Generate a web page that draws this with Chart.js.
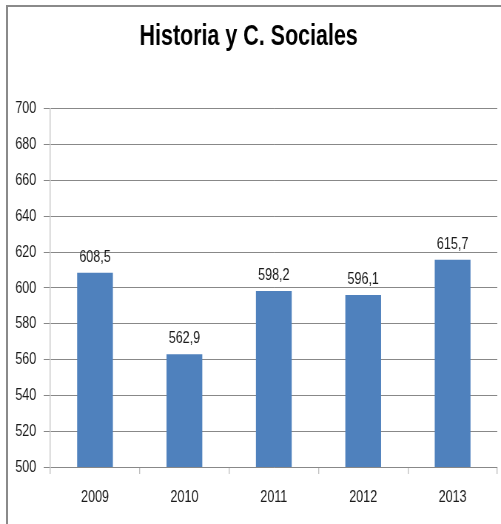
<!DOCTYPE html>
<html>
<head>
<meta charset="utf-8">
<script src="https://cdn.jsdelivr.net/npm/chart.js@4/dist/chart.umd.min.js"></script>
<style>
    html, body { margin: 0; padding: 0; background: #fff; }
    #wrap { position: relative; width: 501px; height: 524px; overflow: hidden; }
    #frame { position: absolute; left: 6px; top: 5px; width: 600px; height: 600px;
             border-top: 2px solid #8a8a8a; border-left: 2px solid #8a8a8a; }
    /* el original usa una fuente estrecha: se dibuja más ancho y se comprime en X */
    #chart { position: absolute; left: 0; top: 0; transform: scaleX(0.74); transform-origin: 0 0; }
</style>
</head>
<body>
<div id="wrap">
    <div id="frame"></div>
    <canvas id="chart" width="677" height="524"></canvas>
</div>
<script>
var years = ['2009', '2010', '2011', '2012', '2013'];
var puntajes = [608.5, 562.9, 598.2, 596.1, 615.7];
var yMin = 500, yMax = 700, yStep = 20;
var titulo = 'Historia y C. Sociales';

var fontName = '"Liberation Sans", Arial, sans-serif';

// etiquetas de valor encima de cada barra, con coma decimal
var valueLabels = {
    id: 'valueLabels',
    afterDatasetsDraw: function(chart){
        var ctx = chart.ctx,
            meta = chart.getDatasetMeta(0);
        ctx.save();
        ctx.font = '17px ' + fontName;
        ctx.fillStyle = '#1a1a1a';
        ctx.textAlign = 'center';
        ctx.textBaseline = 'alphabetic';
        meta.data.forEach(function(bar, i){
            var txt = puntajes[i].toFixed(1).replace('.', ',');
            ctx.fillText(txt, bar.x, bar.y - 11);
        });
        ctx.restore();
    }
};

new Chart(document.getElementById('chart').getContext('2d'), {
    type: 'bar',
    data: {
        labels: years,
        datasets: [{
            data: puntajes,
            backgroundColor: '#4f81bd',
            borderWidth: 0,
            barPercentage: 0.4,
            categoryPercentage: 1
        }]
    },
    options: {
        responsive: false,
        animation: false,
        layout: { padding: { left: 0, right: 5, top: 0, bottom: 0 } },
        plugins: {
            legend: { display: false },
            tooltip: { enabled: false },
            title: {
                display: true,
                text: titulo,
                color: '#000',
                font: { family: fontName, size: 29, weight: 'bold' },
                padding: { top: 20, bottom: 54 }
            }
        },
        scales: {
            x: {
                offset: true,
                grid: {
                    offset: true,
                    drawOnChartArea: false,
                    drawTicks: true,
                    tickLength: 7,
                    lineWidth: 1.35,
                    color: '#bfbfbf'
                },
                border: { display: false },
                ticks: {
                    color: '#1a1a1a',
                    padding: 13,
                    font: { family: fontName, size: 17 }
                },
                afterFit: function(scale){ scale.height = 57; }
            },
            y: {
                min: yMin,
                max: yMax,
                grid: {
                    color: '#888',
                    lineWidth: 1,
                    tickLength: 9
                },
                border: { display: true, color: '#c4c4c4', width: 1.35 },
                ticks: {
                    stepSize: yStep,
                    color: '#1a1a1a',
                    padding: 10,
                    font: { family: fontName, size: 17 }
                },
                afterFit: function(scale){ scale.width = 68; }
            }
        }
    },
    plugins: [valueLabels]
});
</script>
</body>
</html>
